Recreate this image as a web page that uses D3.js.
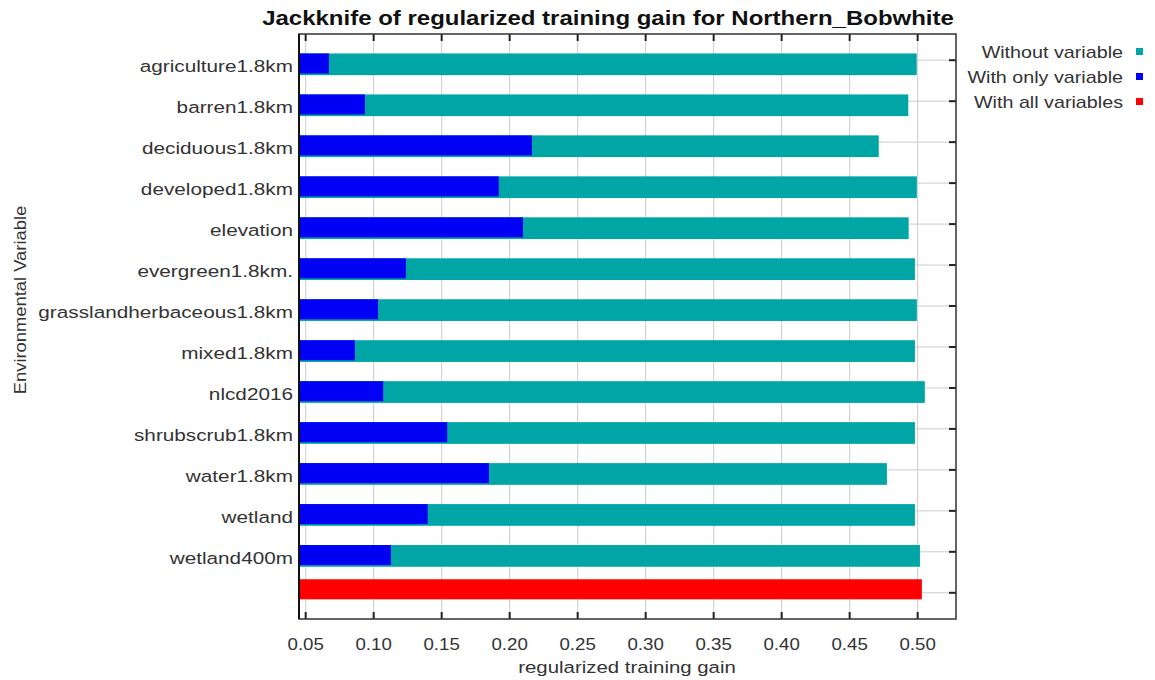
<!DOCTYPE html>
<html>
<head>
<meta charset="utf-8">
<script src="https://cdn.jsdelivr.net/npm/d3@7/dist/d3.min.js"></script>
<style>
  html, body { margin: 0; padding: 0; background: #ffffff; }
  svg { display: block; font-family: "Liberation Sans", Arial, sans-serif; }
</style>
</head>
<body>
<svg id="chart" width="1155" height="680"></svg>
<script>
// Jackknife of regularized training gain
const variables = [
  "agriculture1.8km", "barren1.8km", "deciduous1.8km", "developed1.8km",
  "elevation", "evergreen1.8km.", "grasslandherbaceous1.8km", "mixed1.8km",
  "nlcd2016", "shrubscrub1.8km", "water1.8km", "wetland", "wetland400m"
];
const withoutVariable = [
  0.4993, 0.4931, 0.4714, 0.4994, 0.4934, 0.4980, 0.4994, 0.4980,
  0.5053, 0.4980, 0.4774, 0.4980, 0.5017
];
const withOnlyVariable = [
  0.0671, 0.0936, 0.2164, 0.1920, 0.2098, 0.1237, 0.1032, 0.0862,
  0.1070, 0.1541, 0.1848, 0.1397, 0.1127
];
const withAllVariables = 0.5031;
const allLabel = "";
const xTicks = [0.05, 0.10, 0.15, 0.20, 0.25, 0.30, 0.35, 0.40, 0.45, 0.50];
const legendLabels = ["Without variable", "With only variable", "With all variables"];
const colors = ["#00a6a6", "#0000f5", "#ff0000"];

const svg = d3.select("#chart");
const plot = { left: 299, right: 956, top: 34, bottom: 619 };

const x = d3.scaleLinear().domain([0.0451, 0.5282]).range([plot.left, plot.right]);
const categories = variables.concat([allLabel]);
const y = d3.scalePoint().domain(d3.range(categories.length))
  .range([plot.top, plot.bottom]).padding(0.64);
const step = y.step();

// horizontally widened text helper
function stretched(sel, px, py, sx, rot) {
  return sel.attr("transform",
    `translate(${px},${py})` + (rot ? ` rotate(${rot})` : "") + ` scale(${sx},1)`);
}

const g = svg.append("g");

// vertical grid lines
g.selectAll("line.vgrid").data(xTicks).join("line")
  .attr("class", "vgrid")
  .attr("x1", d => x(d)).attr("x2", d => x(d))
  .attr("y1", plot.top).attr("y2", plot.bottom)
  .attr("stroke", "#cccccc").attr("stroke-width", 1);

// horizontal grid lines at category positions
g.selectAll("line.hgrid").data(d3.range(categories.length)).join("line")
  .attr("class", "hgrid")
  .attr("x1", plot.left).attr("x2", plot.right)
  .attr("y1", d => y(d)).attr("y2", d => y(d))
  .attr("stroke", "#cccccc").attr("stroke-width", 1);

// bars: without variable (behind), with only variable (front)
const barTop = -0.165 * step;
g.selectAll("rect.without").data(withoutVariable).join("rect")
  .attr("class", "without")
  .attr("x", plot.left)
  .attr("y", (d, i) => y(i) + barTop)
  .attr("width", d => x(d) - plot.left)
  .attr("height", 0.53 * step)
  .attr("fill", colors[0]);

g.selectAll("rect.only").data(withOnlyVariable).join("rect")
  .attr("class", "only")
  .attr("x", plot.left)
  .attr("y", (d, i) => y(i) + barTop)
  .attr("width", d => x(d) - plot.left)
  .attr("height", 0.49 * step)
  .attr("fill", colors[1]);

// all variables bar
g.append("rect")
  .attr("x", plot.left)
  .attr("y", y(variables.length) - 0.33 * step)
  .attr("width", x(withAllVariables) - plot.left)
  .attr("height", 0.49 * step)
  .attr("fill", colors[2]);

// tick marks: top and bottom (inward), right (inward)
const tickLen = 7;
g.selectAll("line.tb").data(xTicks).join("line")
  .attr("x1", d => x(d)).attr("x2", d => x(d))
  .attr("y1", plot.bottom).attr("y2", plot.bottom - tickLen)
  .attr("stroke", "#222").attr("stroke-width", 2);
g.selectAll("line.tt").data(xTicks).join("line")
  .attr("x1", d => x(d)).attr("x2", d => x(d))
  .attr("y1", plot.top).attr("y2", plot.top + tickLen)
  .attr("stroke", "#222").attr("stroke-width", 2);
g.selectAll("line.tr").data(d3.range(categories.length)).join("line")
  .attr("x1", plot.right).attr("x2", plot.right - tickLen)
  .attr("y1", d => y(d)).attr("y2", d => y(d))
  .attr("stroke", "#222").attr("stroke-width", 2);

// frame
g.append("rect")
  .attr("x", plot.left).attr("y", plot.top)
  .attr("width", plot.right - plot.left).attr("height", plot.bottom - plot.top)
  .attr("fill", "none").attr("stroke", "#333").attr("stroke-width", 1.5);
g.append("line")
  .attr("x1", plot.left).attr("x2", plot.left)
  .attr("y1", plot.top).attr("y2", plot.bottom)
  .attr("stroke", "#111").attr("stroke-width", 2);

// x axis tick labels
g.selectAll("text.xt").data(xTicks).join("text")
  .attr("class", "xt")
  .attr("text-anchor", "middle")
  .attr("font-size", 17).attr("fill", "#333")
  .text(d => d3.format(".2f")(d))
  .each(function (d) { stretched(d3.select(this), x(d), 650, 1.1); });

// category labels
g.selectAll("text.cat").data(variables).join("text")
  .attr("class", "cat")
  .attr("text-anchor", "end")
  .attr("font-size", 17).attr("fill", "#333")
  .text(d => d)
  .each(function (d, i) { stretched(d3.select(this), 293, y(i) + 12, 1.22); });

// axis titles
stretched(g.append("text")
  .attr("text-anchor", "middle").attr("font-size", 17).attr("fill", "#333")
  .text("regularized training gain"), 627, 673, 1.2);
stretched(g.append("text")
  .attr("text-anchor", "middle").attr("font-size", 17).attr("fill", "#333")
  .text("Environmental Variable"), 26, 300, 1.08, -90);

// chart title
stretched(g.append("text")
  .attr("text-anchor", "middle").attr("font-size", 20).attr("font-weight", "bold")
  .attr("fill", "#111")
  .text("Jackknife of regularized training gain for Northern_Bobwhite"), 608, 25, 1.2);

// legend
const legend = g.selectAll("g.legend").data(legendLabels).join("g").attr("class", "legend");
legend.append("text")
  .attr("text-anchor", "end").attr("font-size", 17).attr("fill", "#333")
  .text(d => d)
  .each(function (d, i) { stretched(d3.select(this), 1123, 58 + i * 25, 1.16); });
legend.append("rect")
  .attr("x", 1136).attr("y", (d, i) => 48 + i * 25)
  .attr("width", 7).attr("height", 7)
  .attr("fill", (d, i) => colors[i]);
</script>
</body>
</html>
